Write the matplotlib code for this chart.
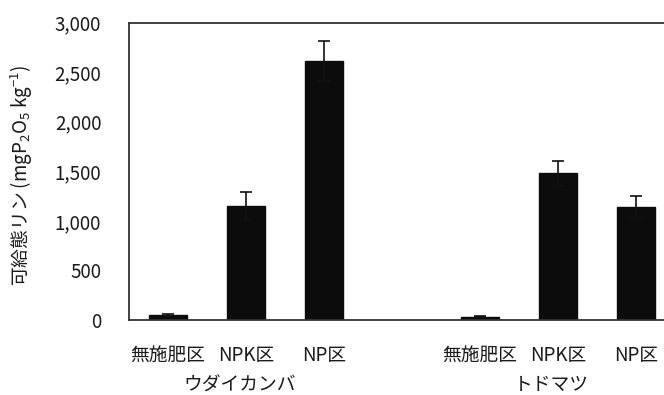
import numpy as np
import matplotlib.pyplot as plt

plt.rcParams['font.family'] = ['Noto Sans CJK JP', 'DejaVu Sans']
plt.rcParams['mathtext.fontset'] = 'custom'
plt.rcParams['mathtext.rm'] = 'Noto Sans CJK JP'

treatments = ['無施肥区', 'NPK区', 'NP区']
species = ['ウダイカンバ', 'トドマツ']
# available phosphorus, mean and error per species
udaikanba_mean = [50, 1150, 2615]
udaikanba_err = [10, 140, 200]
todomatsu_mean = [35, 1480, 1140]
todomatsu_err = [6, 125, 115]

fig = plt.figure(figsize=(6.64, 3.95), dpi=100)
W, H = 664, 395
ax = fig.add_axes([129 / W, 1 - 320 / H, (675 - 129) / W, (320 - 22.5) / H])

pos1 = np.arange(3)
pos2 = np.arange(3) + 4
for pos, mean, err in [(pos1, udaikanba_mean, udaikanba_err),
                       (pos2, todomatsu_mean, todomatsu_err)]:
    ax.bar(pos, mean, width=0.49, color='#0c0c0c', edgecolor='#0c0c0c',
           yerr=err, capsize=4, error_kw=dict(ecolor='#111111', elinewidth=1.2, capthick=1.2))

ax.set_xlim(-0.5, 6.5)
ax.set_ylim(0, 3000)
ax.set_yticks(np.arange(0, 3001, 500))
ax.set_yticklabels(['{:,}'.format(v) for v in range(0, 3001, 500)])
ax.set_xticks(np.concatenate([pos1, pos2]))
ax.set_xticklabels(treatments + treatments)
ax.tick_params(axis='both', length=0, labelsize=13.5, colors='#1a1a1a')
ax.tick_params(axis='x', pad=18)
ax.tick_params(axis='y', pad=20)
for s in ax.spines.values():
    s.set_linewidth(1.3)
    s.set_color('#333333')

for c, name in zip([pos1.mean(), pos2.mean()], species):
    ax.text(c - 0.08, -0.218, name, transform=ax.get_xaxis_transform(),
            ha='center', va='center', fontsize=13.5, color='#1a1a1a')

fig.text(22 / W, 1 - 175 / H, '可給態リン (mgP$_2$O$_5$ kg$^{-1}$)', rotation=90,
         ha='center', va='center', fontsize=13.5, color='#1a1a1a')

fig.savefig('out.png', dpi=100)
